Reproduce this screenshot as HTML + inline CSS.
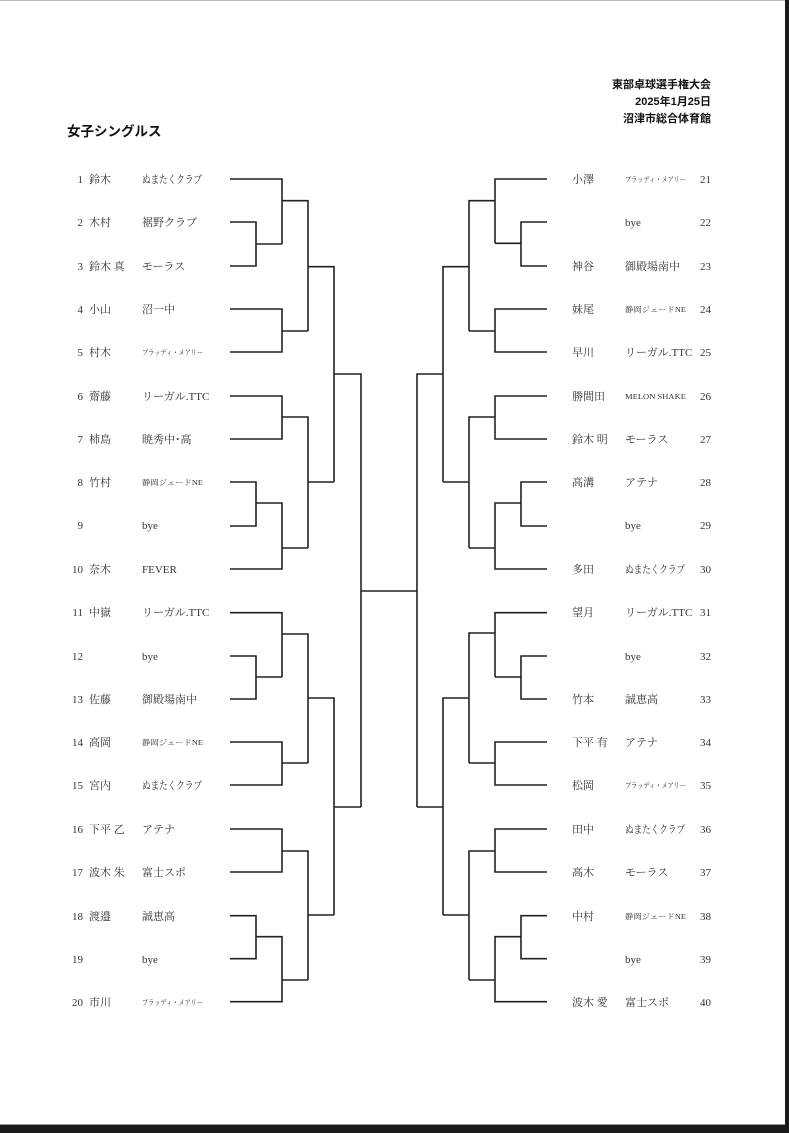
<!DOCTYPE html>
<html><head><meta charset="utf-8"><style>
html,body{margin:0;padding:0;background:#fff;}
body{width:789px;height:1133px;overflow:hidden;position:relative;}
svg{position:absolute;left:0;top:0;}
text{font-family:"Liberation Serif","Noto Serif CJK JP",serif;fill:#333;}
.s{font-size:11px;}
.t{font-size:7.5px;}
.h{font-family:"Liberation Sans","Noto Sans CJK JP",sans-serif;font-weight:bold;font-size:11px;fill:#111;}
</style></head><body>
<svg width="789" height="1133" viewBox="0 0 789 1133">
<rect x="0" y="0" width="789" height="1" fill="#bbb"/>
<rect x="785" y="0" width="4" height="1133" fill="#1a1a1a"/>
<rect x="0" y="1125" width="789" height="8" fill="#1a1a1a"/>
<rect x="0" y="1124" width="785" height="1" fill="#999"/>
<text class="h" x="711" y="88" text-anchor="end">東部卓球選手権大会</text>
<text class="h" x="711" y="105" text-anchor="end">2025年1月25日</text>
<text class="h" x="711" y="122" text-anchor="end">沼津市総合体育館</text>
<text class="h" x="67" y="136" style="font-size:13.5px">女子シングルス</text>

<g fill="none" stroke="#222" stroke-width="1.6">
<path d="M230 179H282V244M230 222H256V266H230M256 244H282M282 200.7H308V331M230 309H282V352H230M282 331H308M308 266.7H334V482"/>
<path d="M230 396H282V439H230M282 417H308V548M230 482H256V526H230M256 503H282V569H230M282 548H308M308 482H334M334 374H361V807"/>
<path d="M230 612.7H282V677M230 656H256V699H230M256 677H282M282 634H308V763M230 742H282V785H230M282 763H308M308 698H334V915"/>
<path d="M230 829H282V872H230M282 851H308V980M230 915.7H256V958.7H230M256 936.7H282V1001.7H230M282 980H308M308 915H334M334 807H361"/>
<path d="M361 591H417"/>
<path d="M547 179H495V243.3M547 222H521V266H547M521 243.3H495M495 200.7H469V331M547 309H495V352H547M495 331H469M469 266.7H443V482"/>
<path d="M547 396H495V439H547M495 417H469V548M547 482H521V526H547M521 503H495V569H547M495 548H469M469 482H443M443 374H417V807"/>
<path d="M547 612.7H495V677M547 656H521V699H547M521 677H495M495 633H469V763M547 742H495V785H547M495 763H469M469 698H443V915"/>
<path d="M547 829H495V872H547M495 851H469V980M547 915.7H521V958.7H547M521 936.7H495V1001.7H547M495 980H469M469 915H443M443 807H417"/>
</g>

<g class="s">
<text x="83" y="183" text-anchor="end">1</text><text x="89" y="183">鈴木</text><text x="142" y="183" textLength="60" lengthAdjust="spacingAndGlyphs">ぬまたくクラブ</text>
<text x="83" y="226" text-anchor="end">2</text><text x="89" y="226">木村</text><text x="142" y="226">裾野クラブ</text>
<text x="83" y="270" text-anchor="end">3</text><text x="89" y="270">鈴木 真</text><text x="142" y="270">モーラス</text>
<text x="83" y="313" text-anchor="end">4</text><text x="89" y="313">小山</text><text x="142" y="313">沼一中</text>
<text x="83" y="356" text-anchor="end">5</text><text x="89" y="356">村木</text><text x="142" y="355" class="t" textLength="61" lengthAdjust="spacingAndGlyphs">ブラッディ・メアリー</text>
<text x="83" y="400" text-anchor="end">6</text><text x="89" y="400">齋藤</text><text x="142" y="400">リーガル.TTC</text>
<text x="83" y="443" text-anchor="end">7</text><text x="89" y="443">柿島</text><text x="142" y="443">暁秀中･高</text>
<text x="83" y="486" text-anchor="end">8</text><text x="89" y="486">竹村</text><text x="142" y="485" class="t" textLength="61" lengthAdjust="spacingAndGlyphs">静岡ジェードNE</text>
<text x="83" y="529" text-anchor="end">9</text><text x="142" y="529">bye</text>
<text x="83" y="573" text-anchor="end">10</text><text x="89" y="573">奈木</text><text x="142" y="573">FEVER</text>
<text x="83" y="616" text-anchor="end">11</text><text x="89" y="616">中嶽</text><text x="142" y="616">リーガル.TTC</text>
<text x="83" y="660" text-anchor="end">12</text><text x="142" y="660">bye</text>
<text x="83" y="703" text-anchor="end">13</text><text x="89" y="703">佐藤</text><text x="142" y="703">御殿場南中</text>
<text x="83" y="746" text-anchor="end">14</text><text x="89" y="746">高岡</text><text x="142" y="745" class="t" textLength="61" lengthAdjust="spacingAndGlyphs">静岡ジェードNE</text>
<text x="83" y="789" text-anchor="end">15</text><text x="89" y="789">宮内</text><text x="142" y="789" textLength="60" lengthAdjust="spacingAndGlyphs">ぬまたくクラブ</text>
<text x="83" y="833" text-anchor="end">16</text><text x="89" y="833">下平 乙</text><text x="142" y="833">アテナ</text>
<text x="83" y="876" text-anchor="end">17</text><text x="89" y="876">波木 朱</text><text x="142" y="876">富士スポ</text>
<text x="83" y="920" text-anchor="end">18</text><text x="89" y="920">渡邉</text><text x="142" y="920">誠恵高</text>
<text x="83" y="963" text-anchor="end">19</text><text x="142" y="963">bye</text>
<text x="83" y="1006" text-anchor="end">20</text><text x="89" y="1006">市川</text><text x="142" y="1005" class="t" textLength="61" lengthAdjust="spacingAndGlyphs">ブラッディ・メアリー</text>

<text x="572" y="183">小澤</text><text x="625" y="182" class="t" textLength="61" lengthAdjust="spacingAndGlyphs">ブラッディ・メアリー</text><text x="700" y="183">21</text>
<text x="625" y="226">bye</text><text x="700" y="226">22</text>
<text x="572" y="270">神谷</text><text x="625" y="270">御殿場南中</text><text x="700" y="270">23</text>
<text x="572" y="313">妹尾</text><text x="625" y="312" class="t" textLength="61" lengthAdjust="spacingAndGlyphs">静岡ジェードNE</text><text x="700" y="313">24</text>
<text x="572" y="356">早川</text><text x="625" y="356">リーガル.TTC</text><text x="700" y="356">25</text>
<text x="572" y="400">勝間田</text><text x="625" y="399" class="t" textLength="61" lengthAdjust="spacingAndGlyphs">MELON SHAKE</text><text x="700" y="400">26</text>
<text x="572" y="443">鈴木 明</text><text x="625" y="443">モーラス</text><text x="700" y="443">27</text>
<text x="572" y="486">高溝</text><text x="625" y="486">アテナ</text><text x="700" y="486">28</text>
<text x="625" y="529">bye</text><text x="700" y="529">29</text>
<text x="572" y="573">多田</text><text x="625" y="573" textLength="60" lengthAdjust="spacingAndGlyphs">ぬまたくクラブ</text><text x="700" y="573">30</text>
<text x="572" y="616">望月</text><text x="625" y="616">リーガル.TTC</text><text x="700" y="616">31</text>
<text x="625" y="660">bye</text><text x="700" y="660">32</text>
<text x="572" y="703">竹本</text><text x="625" y="703">誠恵高</text><text x="700" y="703">33</text>
<text x="572" y="746">下平 有</text><text x="625" y="746">アテナ</text><text x="700" y="746">34</text>
<text x="572" y="789">松岡</text><text x="625" y="788" class="t" textLength="61" lengthAdjust="spacingAndGlyphs">ブラッディ・メアリー</text><text x="700" y="789">35</text>
<text x="572" y="833">田中</text><text x="625" y="833" textLength="60" lengthAdjust="spacingAndGlyphs">ぬまたくクラブ</text><text x="700" y="833">36</text>
<text x="572" y="876">高木</text><text x="625" y="876">モーラス</text><text x="700" y="876">37</text>
<text x="572" y="920">中村</text><text x="625" y="919" class="t" textLength="61" lengthAdjust="spacingAndGlyphs">静岡ジェードNE</text><text x="700" y="920">38</text>
<text x="625" y="963">bye</text><text x="700" y="963">39</text>
<text x="572" y="1006">波木 愛</text><text x="625" y="1006">富士スポ</text><text x="700" y="1006">40</text>
</g>
</svg>
</body></html>
